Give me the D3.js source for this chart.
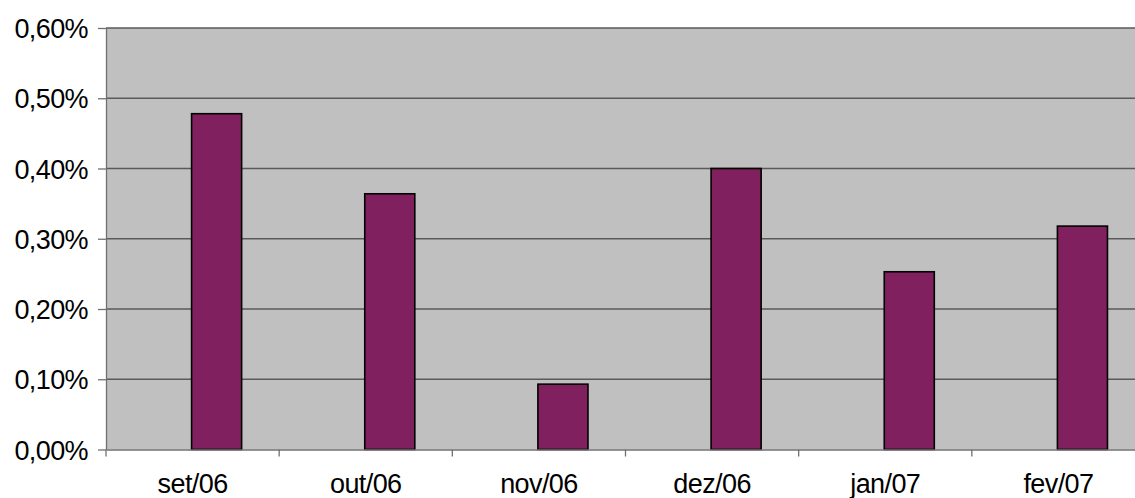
<!DOCTYPE html>
<html>
<head>
<meta charset="utf-8">
<script src="https://cdn.jsdelivr.net/npm/d3@7"></script>
<style>
body { margin: 0; background: #fff; }
svg text { font-family: "Liberation Sans", Arial, sans-serif; }
</style>
</head>
<body>
<div id="plot"></div>
<script>
var categories = ["set/06", "out/06", "nov/06", "dez/06", "jan/07", "fev/07"];
var values = [0.478, 0.364, 0.093, 0.400, 0.253, 0.318];
var yTicks = [0, 0.1, 0.2, 0.3, 0.4, 0.5, 0.6];

var margin = {top: 28, left: 106},
    totalW = 1135, totalH = 498,
    width = 1039,
    height = 421.5;

var fmt = function(d) { return d.toFixed(2).replace(".", ",") + "%"; };

var svg = d3.select("#plot").append("svg")
  .attr("width", totalW)
  .attr("height", totalH);

var g = svg.append("g")
  .attr("transform", "translate(" + margin.left + "," + margin.top + ")");

var x = d3.scaleBand()
  .domain(categories)
  .range([0, width])
  .padding(0);

var y = d3.scaleLinear()
  .domain([0, 0.6])
  .range([height, 0]);

// plot background
g.append("rect")
  .attr("x", 0).attr("y", 0)
  .attr("width", width).attr("height", height)
  .attr("fill", "#c0c0c0");

// gridlines
g.append("g")
  .selectAll("line")
  .data(yTicks.slice(1))
  .enter().append("line")
  .attr("x1", 0).attr("x2", width)
  .attr("y1", function(d) { return y(d); })
  .attr("y2", function(d) { return y(d); })
  .attr("stroke", "#5a5a5a")
  .attr("stroke-width", 1.3);

// bars: second slot of a two-slot cluster
var barW = x.bandwidth() * 0.289;
g.append("g")
  .selectAll("rect")
  .data(values)
  .enter().append("rect")
  .attr("x", function(d, i) { return x(categories[i]) + x.bandwidth() / 2 - 1; })
  .attr("y", function(d) { return y(d); })
  .attr("width", barW)
  .attr("height", function(d) { return height - y(d); })
  .attr("fill", "#80205e")
  .attr("stroke", "#000")
  .attr("stroke-width", 1.6);

// y axis
var yAxis = g.append("g")
  .call(d3.axisLeft(y).tickValues(yTicks).tickFormat(fmt).tickSize(8).tickSizeOuter(0));
yAxis.select(".domain").attr("stroke", "#707070").attr("stroke-width", 1.3);
yAxis.selectAll(".tick line").attr("stroke", "#707070").attr("stroke-width", 1.3);
yAxis.selectAll(".tick text")
  .attr("x", -18)
  .attr("dy", "0.36em")
  .attr("fill", "#000")
  .style("font-size", "27px")
  .style("letter-spacing", "-0.6px");

// x axis
var xAxis = g.append("g")
  .attr("transform", "translate(0," + height + ")")
  .call(d3.axisBottom(x).tickSize(0).tickSizeOuter(0));
xAxis.select(".domain").attr("stroke", "#707070").attr("stroke-width", 1.3);
xAxis.selectAll(".tick text")
  .attr("y", 34)
  .attr("dy", "0.35em")
  .attr("fill", "#000")
  .style("font-size", "27px")
  .style("letter-spacing", "-0.6px");

// category boundary ticks
xAxis.append("g")
  .selectAll("line")
  .data(categories)
  .enter().append("line")
  .attr("x1", function(d) { return x(d); })
  .attr("x2", function(d) { return x(d); })
  .attr("y1", 0).attr("y2", 7)
  .attr("stroke", "#707070")
  .attr("stroke-width", 1.3);
</script>
</body>
</html>
